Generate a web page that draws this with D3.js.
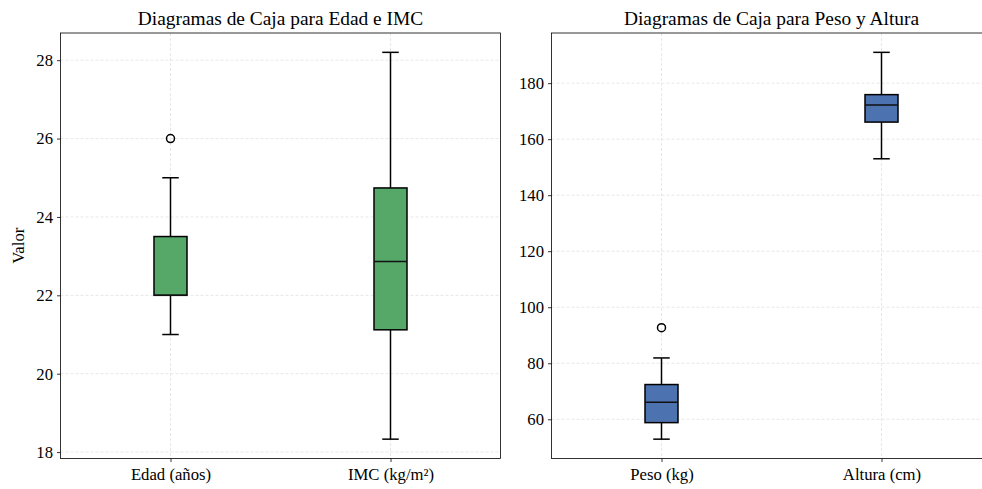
<!DOCTYPE html>
<html lang="es">
<head>
<meta charset="UTF-8">
<title>Diagramas de Caja</title>
<script src="https://d3js.org/d3.v7.min.js"></script>
<style>
  body, html { margin: 0; padding: 0; background: #fff; overflow: hidden; }
  svg { display: block; font-family: "Liberation Serif", "Times New Roman", serif; }
  .grid line { stroke: #d6d6d6; stroke-dasharray: 3 2; stroke-width: 0.6; }
  .tick text { font-size: 16.7px; fill: #000; }
  .title { font-size: 19.4px; text-anchor: middle; }
</style>
</head>
<body>
<svg id="chart" width="982" height="489"></svg>
<script>
// Box statistics: [whiskerLow, q1, median, q3, whiskerHigh]
const leftCategories = ["Edad (años)", "IMC (kg/m²)"];
const leftStats = [
  [21, 22, 22, 23.5, 25],
  [18.33, 21.12, 22.86, 24.74, 28.2]
];
const leftOutliers = [[26], []];
const leftTicks = [18, 20, 22, 24, 26, 28];

const rightCategories = ["Peso (kg)", "Altura (cm)"];
const rightStats = [
  [52.9, 58.8, 66.1, 72.4, 81.9],
  [153, 166.1, 172.2, 175.9, 191]
];
const rightOutliers = [[92.7], []];
const rightTicks = [60, 80, 100, 120, 140, 160, 180];

const svg = d3.select("#chart");
const axTop = 33, axBottom = 458.5, axW = 440;

function panel(x0, title, cats, stats, outliers, ticks, color, ylabel) {
  const g = svg.append("g").attr("transform", `translate(${x0},0)`);
  const all = stats.flat().concat(outliers.flat());
  const lo = d3.min(all), hi = d3.max(all), m = (hi - lo) * 0.05;
  const y = d3.scaleLinear().domain([lo - m, hi + m]).range([axBottom, axTop]);
  const x = d3.scaleLinear().domain([0.5, 2.5]).range([0, axW]);
  const pos = cats.map((c, i) => i + 1);

  // grid
  const grid = g.append("g").attr("class", "grid");
  grid.selectAll(".gy").data(ticks).join("line")
    .attr("x1", 0).attr("x2", axW).attr("y1", d => y(d)).attr("y2", d => y(d));
  grid.selectAll(".gx").data(pos).join("line")
    .attr("x1", d => x(d)).attr("x2", d => x(d)).attr("y1", axTop).attr("y2", axBottom);

  const bw = x(1.075) - x(0.925);
  const boxes = g.selectAll(".box").data(stats).join("g");
  boxes.append("line")
    .attr("x1", (d, i) => x(pos[i])).attr("x2", (d, i) => x(pos[i]))
    .attr("y1", d => y(d[0])).attr("y2", d => y(d[1])).attr("stroke", "#000").attr("stroke-width", 1.5);
  boxes.append("line")
    .attr("x1", (d, i) => x(pos[i])).attr("x2", (d, i) => x(pos[i]))
    .attr("y1", d => y(d[3])).attr("y2", d => y(d[4])).attr("stroke", "#000").attr("stroke-width", 1.5);
  [0, 4].forEach(k => {
    boxes.append("line")
      .attr("x1", (d, i) => x(pos[i]) - bw / 4).attr("x2", (d, i) => x(pos[i]) + bw / 4)
      .attr("y1", d => y(d[k])).attr("y2", d => y(d[k])).attr("stroke", "#000").attr("stroke-width", 1.5);
  });
  boxes.append("rect")
    .attr("x", (d, i) => x(pos[i]) - bw / 2).attr("width", bw)
    .attr("y", d => y(d[3])).attr("height", d => y(d[1]) - y(d[3]))
    .attr("fill", color).attr("stroke", "#000").attr("stroke-width", 1.5);
  boxes.append("line")
    .attr("x1", (d, i) => x(pos[i]) - bw / 2).attr("x2", (d, i) => x(pos[i]) + bw / 2)
    .attr("y1", d => y(d[2])).attr("y2", d => y(d[2])).attr("stroke", "#111").attr("stroke-width", 1.5);

  outliers.forEach((arr, i) => {
    g.selectAll(null).data(arr).join("circle")
      .attr("cx", x(pos[i])).attr("cy", d => y(d)).attr("r", 4)
      .attr("fill", "none").attr("stroke", "#000").attr("stroke-width", 1.5);
  });

  // axes
  const ya = g.append("g").call(d3.axisLeft(y).tickValues(ticks).tickSize(3.5).tickPadding(4).tickFormat(d3.format("d")));
  const xa = g.append("g").attr("transform", `translate(0,${axBottom})`)
    .call(d3.axisBottom(x).tickValues(pos).tickSize(3.5).tickPadding(6).tickFormat((d, i) => cats[i]));
  [ya, xa].forEach(a => {
    a.select(".domain").remove();
    a.selectAll(".tick line").attr("stroke", "#000").attr("stroke-width", 0.8);
    a.attr("font-family", null).attr("font-size", null);
  });

  g.append("rect").attr("x", 0).attr("y", axTop).attr("width", axW).attr("height", axBottom - axTop)
    .attr("fill", "none").attr("stroke", "#000").attr("stroke-width", 0.8);

  g.append("text").attr("class", "title").attr("x", axW / 2).attr("y", 24.5).text(title);

  if (ylabel) {
    g.append("text").attr("transform", `translate(-37,${(axTop + axBottom) / 2}) rotate(-90)`)
      .attr("text-anchor", "middle").attr("font-size", 16.7).text(ylabel);
  }
}

panel(60.5, "Diagramas de Caja para Edad e IMC", leftCategories, leftStats, leftOutliers, leftTicks, "#55A868", "Valor");
panel(551.5, "Diagramas de Caja para Peso y Altura", rightCategories, rightStats, rightOutliers, rightTicks, "#4C72B0", null);
</script>
</body>
</html>
